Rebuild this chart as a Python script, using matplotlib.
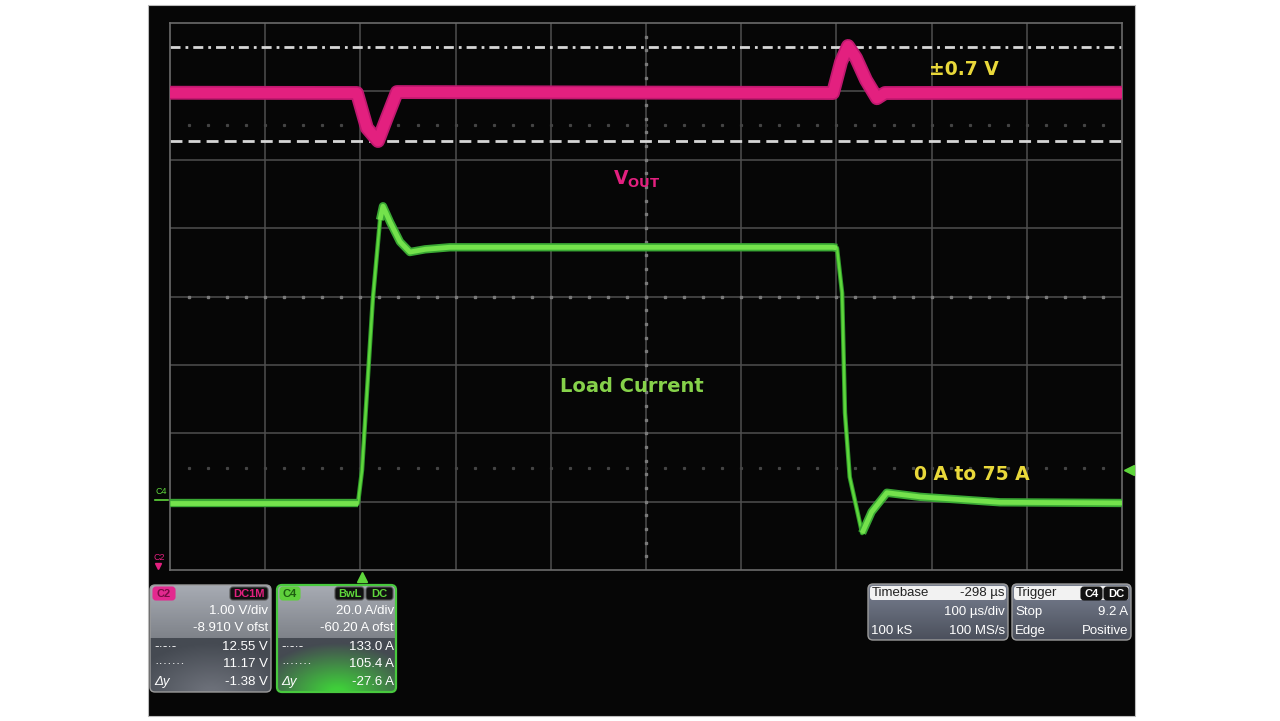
"""
Load step response scope capture (VOUT and load current)
"""

import numpy as np
import matplotlib.pyplot as plt
from matplotlib.patches import Rectangle, FancyBboxPatch

# ---- data, in scope divisions (x: 0..10 time divs, y: 0..8 vertical divs)
vout_t = [0.0, 1.964, 2.069, 2.185, 2.269, 2.384, 6.964, 7.049, 7.122, 7.206, 7.311, 7.426, 7.51, 10.0]
vout_y = [6.98, 6.976, 6.464, 6.274, 6.581, 6.99, 6.976, 7.43, 7.664, 7.488, 7.166, 6.9, 6.976, 6.98]

iload_t = [0.0, 1.975, 2.017, 2.13, 2.206, 2.237, 2.311, 2.416, 2.52, 2.68, 2.94, 6.964, 7.006,
           7.06, 7.09, 7.14, 7.27, 7.37, 7.53, 7.88, 8.72, 10.0]
iload_y = [0.98, 0.98, 1.46, 3.95, 5.12, 5.32, 5.09, 4.80, 4.65, 4.69, 4.72, 4.72, 4.71,
           4.05, 2.30, 1.36, 0.54, 0.85, 1.13, 1.07, 0.99, 0.98]

cursor_dashdot = 7.65   # C2 cursor 12.55 V
cursor_dashed = 6.27    # C2 cursor 11.17 V
dotted_rows = [6.51, 1.49]

c2_rows = ['1.00 V/div', '-8.910 V ofst', '12.55 V', '11.17 V', '-1.38 V']
c4_rows = ['20.0 A/div', '-60.20 A ofst', '133.0 A', '105.4 A', '-27.6 A']
timebase_rows = [('', '100 µs/div'), ('100 kS', '100 MS/s')]
trigger_rows = [('Stop', '9.2 A'), ('Edge', 'Positive')]

PINK = '#e3207f'
GREEN = '#5fd63c'
YELLOW = '#e9d83a'
GRID = '#4e4e4e'
FONT = 'Liberation Sans'

fig = plt.figure(figsize=(12.8, 7.21), dpi=100)
fig.patch.set_facecolor('white')

# background layer in pixel coords (screen, info boxes)
bg = fig.add_axes([0, 0, 1, 1])
bg.set_xlim(0, 1280)
bg.set_ylim(721, 0)
bg.axis('off')
bg.add_patch(Rectangle((148, 5), 987, 711, facecolor='#060606', edgecolor='#bbbbbb', lw=0.8))


def gradient_box(x, y, w, h, top, bottom, edge, lw=1.0, split=None, low=None):
    box = FancyBboxPatch((x, y), w, h, boxstyle='round,pad=0,rounding_size=5',
                         facecolor='none', edgecolor=edge, lw=lw, zorder=4)
    bg.add_patch(box)
    n = 64
    ramp = np.linspace(0, 1, n)[:, None]
    c0, c1 = np.array(plt.matplotlib.colors.to_rgb(top)), np.array(plt.matplotlib.colors.to_rgb(bottom))
    img = c0 + (c1 - c0) * ramp[:, :, None]
    img = np.repeat(img, 4, axis=1)
    im = bg.imshow(img, extent=(x, x + w, y + h, y), aspect='auto', zorder=2)
    im.set_clip_path(box)
    if split is not None:
        yy, xx = np.mgrid[0:48, 0:64]
        d = np.sqrt(((xx - 32) / 40.0) ** 2 + ((yy - 48) / 40.0) ** 2)
        a = np.clip(1.1 - d, 0, 1)[..., None]
        base = np.array(plt.matplotlib.colors.to_rgb('#454a52'))
        hi = np.array(plt.matplotlib.colors.to_rgb(low))
        img2 = base * (1 - a) + hi * a
        im2 = bg.imshow(img2, extent=(x, x + w, y + h, split), aspect='auto', zorder=3)
        im2.set_clip_path(box)
    return box


def tag(x, y, w, text, fc, tc, ec=None):
    bg.add_patch(FancyBboxPatch((x, y), w, 13, boxstyle='round,pad=0,rounding_size=3',
                                facecolor=fc, edgecolor=ec or fc, lw=0.8, zorder=5))
    bg.text(x + w / 2, y + 7, text, color=tc, fontsize=8, family=FONT, weight='bold',
            ha='center', va='center', zorder=6)


txt = dict(color='white', fontsize=9.5, family=FONT, va='center', zorder=6)
row_y = [611, 628, 647, 664, 682]

# C2 box
gradient_box(150, 585, 121, 107, '#a7abb3', '#55595f', '#9b9b9b', split=638, low='#6c7079')
tag(153, 587, 22, 'C2', '#e3298f', '#7a0c45')
tag(230, 587, 38, 'DC1M', '#111111', PINK, ec='#555555')
for yy, s in zip(row_y, c2_rows):
    bg.text(268, yy, s, ha='right', **txt)
bg.text(154, 647, '-·-·-', ha='left', **txt)
bg.text(154, 664, '·······', ha='left', **txt)
bg.text(154, 682, 'Δy', ha='left', style='italic', **txt)

# C4 box
gradient_box(277, 585, 119, 107, '#a7abb3', '#55595f', '#48c93e', lw=1.6, split=638, low='#3fcf3a')
tag(280, 587, 20, 'C4', '#5fd03c', '#1d5d10')
tag(335, 587, 29, 'BwL', '#111111', GREEN, ec='#555555')
tag(366, 587, 27, 'DC', '#111111', GREEN, ec='#555555')
for yy, s in zip(row_y, c4_rows):
    bg.text(394, yy, s, ha='right', **txt)
bg.text(281, 647, '-·-·-', ha='left', **txt)
bg.text(281, 664, '·······', ha='left', **txt)
bg.text(281, 682, 'Δy', ha='left', style='italic', **txt)

# Timebase box
gradient_box(868, 584, 140, 56, '#7a8192', '#4b505c', '#9b9b9b')
bg.add_patch(FancyBboxPatch((870, 586), 136, 14, boxstyle='round,pad=0,rounding_size=3',
                            facecolor='#f2f2f2', edgecolor='none', zorder=5))
bg.text(872, 593, 'Timebase', ha='left', color='#222222', fontsize=9.5, family=FONT, va='center', zorder=6)
bg.text(1005, 593, '-298 µs', ha='right', color='#222222', fontsize=9.5, family=FONT, va='center', zorder=6)
for yy, (l, r) in zip([612, 631], timebase_rows):
    bg.text(871, yy, l, ha='left', **txt)
    bg.text(1005, yy, r, ha='right', **txt)

# Trigger box
gradient_box(1012, 584, 119, 56, '#7a8192', '#4b505c', '#9b9b9b')
bg.add_patch(FancyBboxPatch((1014, 586), 115, 14, boxstyle='round,pad=0,rounding_size=3',
                            facecolor='#f2f2f2', edgecolor='none', zorder=5))
bg.text(1016, 593, 'Trigger', ha='left', color='#222222', fontsize=9.5, family=FONT, va='center', zorder=6)
tag(1081, 587, 21, 'C4', '#111111', 'white')
tag(1104, 587, 24, 'DC', '#111111', 'white')
for yy, (l, r) in zip([612, 631], trigger_rows):
    bg.text(1015, yy, l, ha='left', **txt)
    bg.text(1128, yy, r, ha='right', **txt)

# channel markers
bg.text(156, 492, 'C4', color=GREEN, fontsize=6.5, family=FONT, ha='left', va='center')
bg.plot([155, 168], [500, 500], color=GREEN, lw=1.2)
bg.text(154, 558, 'C2', color=PINK, fontsize=6.5, family=FONT, ha='left', va='center')
bg.plot([158], [566], marker='v', color=PINK, ms=4)
bg.plot([362], [577], marker='^', color=GREEN, ms=7)
bg.plot([1129], [470], marker='<', color=GREEN, ms=7)

# ---- graticule / traces
ax = fig.add_axes([170 / 1280, (721 - 570) / 721, 952 / 1280, 547 / 721])
ax.set_xlim(0, 10)
ax.set_ylim(0, 8)
ax.set_facecolor('none')
ax.set_xticks([])
ax.set_yticks([])
for s in ax.spines.values():
    s.set_color('#6a6a6a')
    s.set_linewidth(1.2)

for i in range(1, 10):
    ax.axvline(i, color=GRID, lw=1.1, zorder=1)
for j in range(1, 8):
    ax.axhline(j, color=GRID, lw=1.1, zorder=1)

# center-line minor ticks (small dots)
minor_x = np.arange(0.2, 10, 0.2)
ax.plot(minor_x, np.full_like(minor_x, 4.0), ls='none', marker='s', ms=1.5, color='#7a7a7a', zorder=1)
minor_y = np.arange(0.2, 8, 0.2)
ax.plot(np.full_like(minor_y, 5.0), minor_y, ls='none', marker='s', ms=1.5, color='#7a7a7a', zorder=1)
for r in dotted_rows:
    ax.plot(minor_x, np.full_like(minor_x, r), ls='none', marker='s', ms=1.3, color='#444444', zorder=1)

# cursors
ax.axhline(cursor_dashdot, color='#d6d6d6', lw=2, dashes=(3.6, 1.8, 1.0, 1.8), zorder=2)
ax.axhline(cursor_dashed, color='#d6d6d6', lw=2, dashes=(4.3, 2.2), zorder=2)

# VOUT trace (noisy band)
ax.plot(vout_t, vout_y, color='#c0186f', lw=10, solid_joinstyle='round', zorder=3)
ax.plot(vout_t, vout_y, color=PINK, lw=7.5, solid_joinstyle='round', zorder=3)

# load current trace
ax.plot(iload_t, iload_y, color='#2f9a2a', lw=3.2, solid_joinstyle='round', zorder=3)
ax.plot(iload_t, iload_y, color=GREEN, lw=1.8, solid_joinstyle='round', zorder=3)
for a, b in [(0, 2), (4, 13), (16, 22)]:
    ax.plot(iload_t[a:b], iload_y[a:b], color='#3aa834', lw=6, solid_joinstyle='round',
            solid_capstyle='butt', zorder=3)
    ax.plot(iload_t[a:b], iload_y[a:b], color='#74e24c', lw=3.5, solid_joinstyle='round',
            solid_capstyle='butt', zorder=3)

# annotations
ax.text(7.97, 7.32, '±0.7 V', color=YELLOW, fontsize=13.5, weight='bold', ha='left', va='center', zorder=5)
ax.text(4.65, 5.72, r'V$_{\mathregular{OUT}}$', color=PINK, fontsize=13.5, weight='bold',
        ha='left', va='center', zorder=5)
ax.text(4.85, 2.68, 'Load Current', color='#86d24a', fontsize=14, weight='bold', ha='center', va='center', zorder=5)
ax.text(7.82, 1.40, '0 A to 75 A', color=YELLOW, fontsize=13.5, weight='bold', ha='left', va='center', zorder=5)

fig.savefig('out.png', dpi=100, facecolor='white')
plt.close(fig)
